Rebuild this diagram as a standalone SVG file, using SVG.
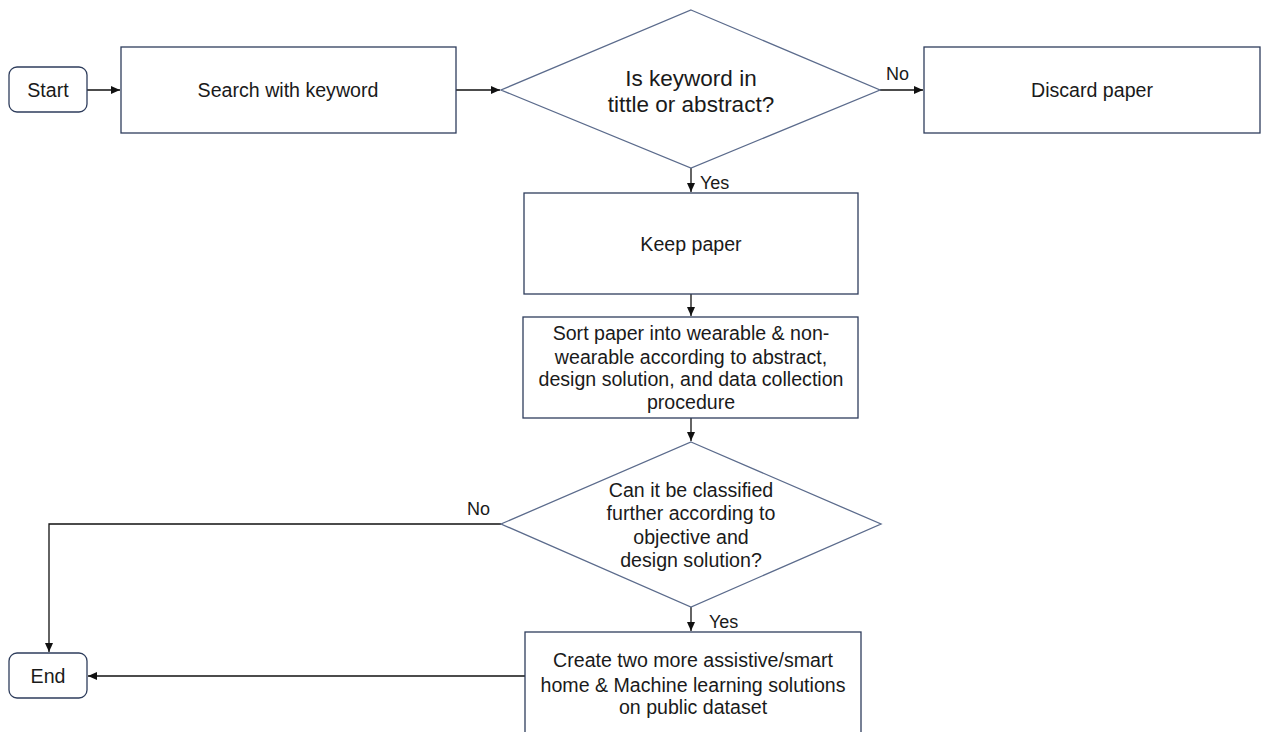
<svg xmlns="http://www.w3.org/2000/svg" width="1261" height="732" viewBox="0 0 1261 732">
<style>
.box{fill:#fff;stroke:#2e3d5c;stroke-width:1.3}
.dia{fill:#fff;stroke:#5b6b8c;stroke-width:1.3}
.t{font-family:"Liberation Sans",Arial,sans-serif;font-size:19.6px;fill:#1a1a1a;text-anchor:middle}
.big{font-size:22.5px}
.l{font-family:"Liberation Sans",Arial,sans-serif;font-size:18px;fill:#1a1a1a}
.c{fill:none;stroke:#111;stroke-width:1.3}
</style>
<defs>
<marker id="ah" markerWidth="10" markerHeight="8" refX="9" refY="4" orient="auto" markerUnits="userSpaceOnUse">
<path d="M0,0 L9,4 L0,8 Z" fill="#111"/>
</marker>
</defs>
<rect width="1261" height="732" fill="#fff"/>
<g id="connectors">
<line class="c" x1="87" y1="90" x2="120" y2="90" marker-end="url(#ah)"/>
<line class="c" x1="456" y1="90" x2="500" y2="90" marker-end="url(#ah)"/>
<line class="c" x1="880" y1="90" x2="923" y2="90" marker-end="url(#ah)"/>
<line class="c" x1="691" y1="168" x2="691" y2="192" marker-end="url(#ah)"/>
<line class="c" x1="691" y1="294" x2="691" y2="316" marker-end="url(#ah)"/>
<line class="c" x1="691" y1="418" x2="691" y2="441" marker-end="url(#ah)"/>
<polyline class="c" points="501,524 49,524 49,652" marker-end="url(#ah)"/>
<line class="c" x1="691" y1="607" x2="691" y2="631" marker-end="url(#ah)"/>
<line class="c" x1="525" y1="676" x2="88" y2="676" marker-end="url(#ah)"/>
<text class="l" x="886" y="80">No</text>
<text class="l" x="700" y="189">Yes</text>
<text class="l" x="467" y="515">No</text>
<text class="l" x="709" y="628">Yes</text>
</g>
<g id="start">
<rect class="box" x="9" y="67" width="78" height="45" rx="8"/>
<text class="t" x="48" y="97">Start</text>
</g>
<g id="search">
<rect class="box" x="121" y="47" width="335" height="86"/>
<text class="t" x="288" y="97">Search with keyword</text>
</g>
<g id="decision1">
<polygon class="dia" points="691,10 880,90 691,168 501,90"/>
<text class="t big" x="691" y="86">Is keyword in</text>
<text class="t big" x="691" y="112">tittle or abstract?</text>
</g>
<g id="discard">
<rect class="box" x="924" y="47" width="336" height="86"/>
<text class="t" x="1092" y="97">Discard paper</text>
</g>
<g id="keep">
<rect class="box" x="524" y="193" width="334" height="101"/>
<text class="t" x="691" y="251">Keep paper</text>
</g>
<g id="sort">
<rect class="box" x="523" y="317" width="335" height="101"/>
<text class="t" x="691" y="340">Sort paper into wearable &amp; non-</text>
<text class="t" x="691" y="364">wearable according to abstract,</text>
<text class="t" x="691" y="386">design solution, and data collection</text>
<text class="t" x="691" y="409">procedure</text>
</g>
<g id="decision2">
<polygon class="dia" points="691,442 881,524 691,607 501,524"/>
<text class="t" x="691" y="497">Can it be classified</text>
<text class="t" x="691" y="520">further according to</text>
<text class="t" x="691" y="544">objective and</text>
<text class="t" x="691" y="567">design solution?</text>
</g>
<g id="create">
<rect class="box" x="525" y="632" width="336" height="110"/>
<text class="t" x="693" y="667">Create two more assistive/smart</text>
<text class="t" x="693" y="692">home &amp; Machine learning solutions</text>
<text class="t" x="693" y="714">on public dataset</text>
</g>
<g id="end">
<rect class="box" x="9" y="653" width="78" height="45" rx="8"/>
<text class="t" x="48" y="683">End</text>
</g>
</svg>
